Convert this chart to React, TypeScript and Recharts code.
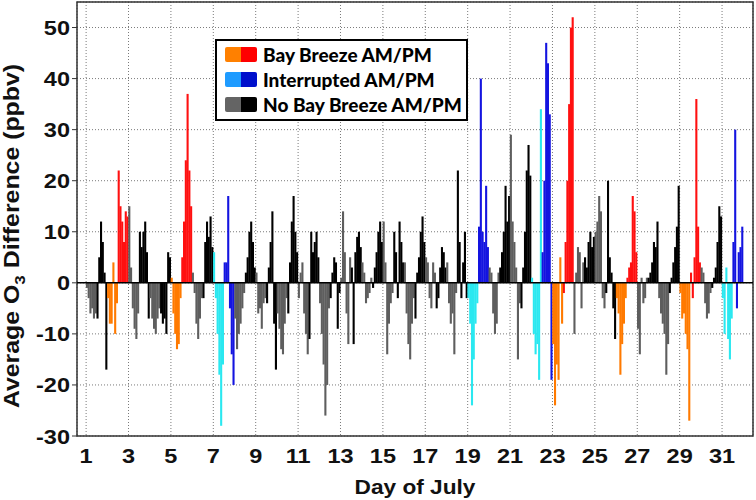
import {
  Bar, BarChart, CartesianGrid, Cell, Legend, Rectangle, ReferenceArea, ReferenceLine, XAxis, YAxis,
} from "recharts";

// One day = 6 morning + 6 afternoon two-hour bins (ppbv difference)
const days = [1, 2, 3, 4, 5, 6, 7, 8, 9, 10, 11, 12, 13, 14, 15, 16, 17, 18, 19, 20, 21, 22, 23, 24, 25, 26, 27, 28, 29, 30, 31];

// B = bay breeze, I = interrupted, N = no bay breeze
const dayTypes = [
  "N", "B", "N", "N", "B", "N", "I", "N", "N", "N", "N", "N", "N", "N", "N", "N",
  "N", "N", "I", "N", "N", "I", "B", "N", "N", "B", "N", "N", "B", "N", "I",
];

const amValues = [
  [-1, -3, -6, -5, -7, -6],
  [-3, -8, -8, 4, -10, -4],
  [15, 3, -5, -9, -11, -6],
  [-3, -7, -9, -10, -7, -5],
  [1, -6, -10, -13, -12, -3],
  [2, -2, -8, -11, -7, -3],
  [6, -3, -10, -18, -28, -16],
  [-7, -13, -10, -8, -5, -2],
  [2, -6, -5, -9, -4, -3],
  [-6, -9, -13, -14, -8, -3],
  [-3, 2, 4, -6, -10, -14],
  [-4, -10, -16, -26, -20, -5],
  [1, 14, 6, -6, -12, 5],
  [4, 2, -4, -3, -2, 1],
  [12, 4, -14, -8, -4, -2],
  [4, -6, -12, -15, -8, -3],
  [5, 4, -3, -5, 4, 2],
  [4, -4, -8, -6, -14, -2],
  [-3, -8, -24, -15, -8, -4],
  [3, 2, -6, -10, -8, 2],
  [29, 12, 8, 3, -15, -4],
  [1, -10, -14, -12, -19, 34],
  [-12, -24, -16, -19, 5, -8],
  [-10, 2, 7, 6, -5, 4],
  [10, 12, 17, 14, -3, -5],
  [-3, -6, -18, -12, -8, -3],
  [-9, -14, 1, -4, -3, 1],
  [-3, -6, -8, -10, -18, -12],
  [-2, -7, -6, -10, -13, -27],
  [3, 2, -4, -7, -6, -2],
  [-3, -10, 3, -11, -15, -7],
];

const pmValues = [
  [-7, 5, 12, 8, 2, -17],
  [22, 15, 12, 8, 14, 13],
  [10, 7, 10, 12, 6, -7],
  [-6, -8, -7, -10, 6, 5],
  [5, 12, 24, 37, 22, 15],
  [-3, 8, 12, 9, 13, 7],
  [4, 4, 17, -5, -14, -20],
  [2, 5, 10, 12, 8, 3],
  [-4, 3, 8, 14, -8, -17],
  [-6, 4, 12, 17, 10, 6],
  [-11, 10, 6, 8, 10, 5],
  [-3, 2, 5, 4, -9, -2],
  [3, -12, 6, 9, 10, 7],
  [-1, 3, 6, 10, 12, 8],
  [10, 6, -3, 12, 8, 4],
  [-7, 2, 5, 10, 13, 8],
  [-5, -3, 3, 7, 6, 3],
  [22, 8, -3, 4, 10, -3],
  [11, 40, 10, 8, 19, 7],
  [3, 6, 10, 19, 12, 17],
  [-5, 3, 10, 22, 27, 21],
  [6, 20, 47, 43, 33, -19],
  [-2, 8, 20, 35, 50, 52],
  [5, 3, 8, 10, 7, 9],
  [-2, 20, 5, 2, -5, -11],
  [1, 3, 4, 17, 14, 6],
  [1, 2, 4, 8, 7, 12],
  [-2, 1, 4, 7, 11, 19],
  [2, -3, 5, 36, 11, 4],
  [-1, 1, 3, 8, 15, 13],
  [8, 30, -5, 6, 7, 11],
];

const xTicks = [1, 3, 5, 7, 9, 11, 13, 15, 17, 19, 21, 23, 25, 27, 29, 31];
const yTicks = [-30, -20, -10, 0, 10, 20, 30, 40, 50];
const legendTypes = ["B", "I", "N"];
const legendLabels = ["Bay Breeze AM/PM", "Interrupted AM/PM", "No Bay Breeze AM/PM"];

const amColor: Record<string, string> = { B: "#ff7a00", I: "#2ae8f0", N: "#5e5e5e" };
const pmColor: Record<string, string> = { B: "#ff1010", I: "#1414e0", N: "#000000" };
const swatchAm: Record<string, string> = { B: "#ff8000", I: "#1e9bff", N: "#646464" };
const swatchPm: Record<string, string> = { B: "#ff0000", I: "#0010cc", N: "#000000" };

const X_DOMAIN: [number, number] = [0.57, 32.46];
const Y_DOMAIN: [number, number] = [-30, 55];
const FONT = "'Liberation Sans', Arial, sans-serif";

const data = days.flatMap((day, i) => {
  const t = dayTypes[i];
  const am = amValues[i].map((v, j) => ({ x: day + (j + 0.5) / 12, v, fill: amColor[t] }));
  const pm = pmValues[i].map((v, j) => ({ x: day + (j + 6.5) / 12, v, fill: pmColor[t] }));
  return [...am, ...pm];
});

// recharts squeezes bars to 90% of the slot; widen so neighbours touch like the original
function SpikeBar(props: any) {
  const w = 2.1;
  return <Rectangle {...props} x={props.x + props.width / 2 - w / 2} width={w} />;
}

function XTick({ x, y, payload }: any) {
  return (
    <g transform={`translate(${x},${y + 27}) scale(1.12,1)`}>
      <text textAnchor="middle" fontFamily={FONT} fontWeight={700} fontSize={21} fill="#111">
        {payload.value}
      </text>
    </g>
  );
}

function YTick({ x, y, payload }: any) {
  return (
    <g transform={`translate(${x},${y + 7.5}) scale(1.12,1)`}>
      <text textAnchor="end" fontFamily={FONT} fontWeight={700} fontSize={21} fill="#111">
        {payload.value}
      </text>
    </g>
  );
}

function YLabel({ viewBox }: any) {
  const cx = viewBox.x + 19;
  const cy = viewBox.y + viewBox.height / 2 + 17;
  return (
    <text
      transform={`translate(${cx},${cy}) rotate(-90) scale(1.13,1)`}
      textAnchor="middle"
      fontFamily={FONT}
      fontWeight={700}
      fontSize={22}
      fill="#111"
    >
      Average O<tspan dy={6} fontSize={15}>3</tspan>
      <tspan dy={-6}> Difference (ppbv)</tspan>
    </text>
  );
}

function XLabel({ viewBox }: any) {
  const cx = viewBox.x + viewBox.width / 2;
  return (
    <text
      transform={`translate(${cx},${viewBox.y + 58}) scale(1.08,1)`}
      textAnchor="middle"
      fontFamily={FONT}
      fontWeight={700}
      fontSize={21}
      fill="#111"
    >
      Day of July
    </text>
  );
}

function LegendBox() {
  return (
    <div
      style={{
        boxSizing: "border-box",
        width: 253,
        height: 82,
        border: "2px solid #000",
        background: "#fff",
        padding: "1px 0 0 8px",
        fontFamily: "Lato, 'Open Sans', sans-serif",
        fontWeight: 900,
        fontSize: 19,
        color: "#000",
      }}
    >
      {legendTypes.map((t, i) => (
        <div key={t} style={{ display: "flex", alignItems: "center", height: 25 }}>
          <span style={{ width: 16, height: 15, background: swatchAm[t], borderRadius: "2px 0 0 2px" }} />
          <span style={{ width: 16, height: 15, background: swatchPm[t], borderRadius: "0 2px 2px 0" }} />
          <span style={{ marginLeft: 6, whiteSpace: "nowrap" }}>{legendLabels[i]}</span>
        </div>
      ))}
    </div>
  );
}

export default function App() {
  return (
    <div style={{ width: 756, height: 500, background: "#fff" }}>
      <style>{"body{margin:0;background:#fff}"}</style>
      <BarChart width={756} height={500} data={data} margin={{ top: 2, right: 3, bottom: 0, left: 0 }}>
        <CartesianGrid stroke="#7a7a7a" strokeDasharray="1 2" />
        <XAxis
          dataKey="x"
          type="number"
          domain={X_DOMAIN}
          ticks={xTicks}
          allowDataOverflow
          height={64}
          axisLine={false}
          tickLine={false}
          tickSize={0}
          tickMargin={0}
          tick={<XTick />}
          label={{ content: (p: any) => <XLabel {...p} /> }}
        />
        <YAxis
          type="number"
          domain={Y_DOMAIN}
          ticks={yTicks}
          allowDataOverflow
          width={77}
          axisLine={false}
          tickLine={{ stroke: "#333" }}
          tickSize={5}
          tickMargin={2}
          tick={<YTick />}
          label={{ content: (p: any) => <YLabel {...p} /> }}
        />
        <Bar dataKey="v" barSize={2} shape={<SpikeBar />} isAnimationActive={false}>
          {data.map((d, i) => (
            <Cell key={i} fill={d.fill} />
          ))}
        </Bar>
        <ReferenceLine y={0} stroke="#000" strokeWidth={1.5} />
        <ReferenceArea
          x1={X_DOMAIN[0]}
          x2={X_DOMAIN[1]}
          y1={Y_DOMAIN[0]}
          y2={Y_DOMAIN[1]}
          fill="none"
          stroke="#333"
          strokeWidth={1.5}
        />
        <Legend
          layout="horizontal"
          verticalAlign="middle"
          align="center"
          content={() => <LegendBox />}
          wrapperStyle={{ left: 215, top: 39, width: 253, height: 82 }}
        />
      </BarChart>
    </div>
  );
}
